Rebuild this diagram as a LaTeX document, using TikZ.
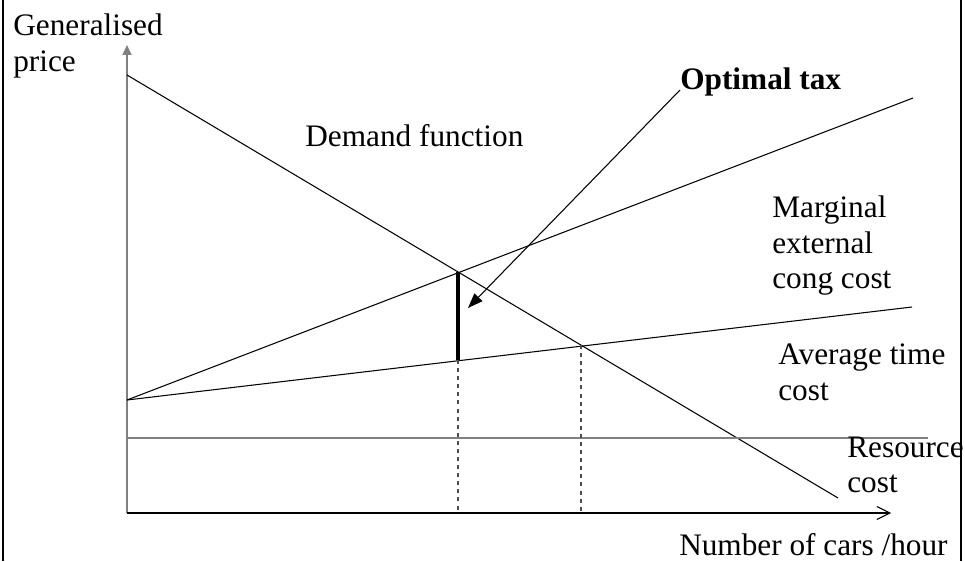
\documentclass[tikz,border=0pt]{standalone}
\usepackage{fontspec}
\setmainfont{Liberation Serif}
\usepackage{tikz}
\usetikzlibrary{arrows.meta,positioning}

\begin{document}
\begin{tikzpicture}[
  every node/.style={inner sep=0pt, align=left},
  curve/.style={line width=0.6pt},
  axis/.style={draw=black!50, line width=0.9pt},
  guide/.style={draw=black!70, line width=0.6pt, dash pattern=on 2.3pt off 2.3pt},
  font=\fontsize{17.8pt}{20.2pt}\selectfont
]
\useasboundingbox (0,0) rectangle (19.3,11.22);

% -------- Marco --------
\draw[line width=1.4pt] (0.06,0) -- (0.06,11.22);
\draw[line width=1.4pt] (19.22,0) -- (19.22,11.22);

% -------- Ejes --------
\coordinate (o) at (2.54,0.96);
\coordinate (ytop) at (2.54,10.32);
\coordinate (xend) at (17.82,0.96);

\draw[axis, -{Triangle[length=2mm,width=1.8mm]}] (o) -- (ytop);
\draw[curve, -{Straight Barb[length=2.6mm,width=2.6mm]}] (o) -- (xend);

% -------- Curvas --------
\coordinate (a) at (2.54,3.22);
\coordinate (d1) at (2.54,9.72);
\coordinate (d2) at (16.76,1.26);
\coordinate (m2) at (18.26,9.26);
\coordinate (t2) at (18.24,5.08);
\coordinate (r1) at (2.54,2.46);
\coordinate (r2) at (18.56,2.46);

\draw[curve] (d1) -- (d2);
\draw[curve] (a) -- (m2);
\draw[curve] (a) -- (t2);
\draw[axis, line width=0.6pt] (r1) -- (r2);

% Cortes y proyecciones
\coordinate (p) at (9.16,5.78);
\coordinate (q) at (9.16,4.02);
\coordinate (e) at (11.62,4.32);
\coordinate (q0) at (9.16,0.96);
\coordinate (e0) at (11.62,0.96);

\draw[guide] (q) -- (q0);
\draw[guide] (e) -- (e0);
\draw[line width=2.3pt] (p) -- (q);

% -------- Etiquetas --------
\node[anchor=north west] (gp) at (0.26,10.95) {Generalised\\price};
\node[anchor=base west] (dem) at (6.10,8.28) {Demand function};
\node[anchor=base west, font=\fontsize{17.8pt}{20.2pt}\selectfont\bfseries] (tax) at (13.6,9.42) {Optimal tax};
\node[anchor=north west] (mec) at (15.44,7.31) {Marginal\\external\\cong cost};
\node[anchor=north west] (atc) at (15.56,4.35) {Average time\\cost};
\node[anchor=north west] (rc) at (16.94,2.49) {Resource\\cost};
\node[anchor=base east] (nc) at (18.96,0.12) {Number of cars /hour};

% Flecha del impuesto
\coordinate (f) at (9.36,5.06);
\draw[curve, -{Triangle[length=3mm,width=2.2mm]}] (tax.base west) -- (f);

\end{tikzpicture}
\end{document}
